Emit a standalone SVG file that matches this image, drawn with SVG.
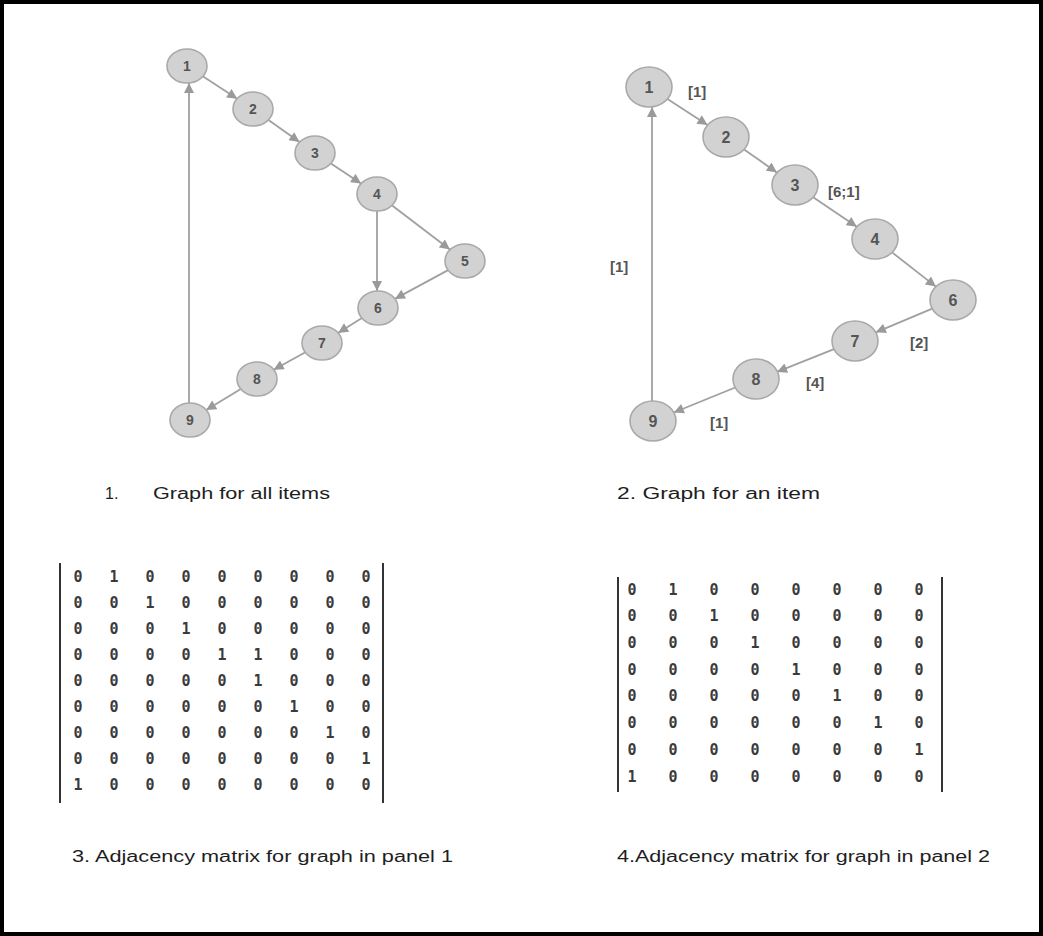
<svg xmlns="http://www.w3.org/2000/svg" width="1043" height="936" viewBox="0 0 1043 936">
<defs>
<marker id="ah" viewBox="0 0 10 10" refX="10" refY="5" markerWidth="11" markerHeight="10" markerUnits="userSpaceOnUse" orient="auto">
<path d="M0,0 L10,5 L0,10 z" fill="#9a9a9a"/>
</marker>
<style>
.edge{stroke:#a0a0a0;stroke-width:1.8;fill:none;marker-end:url(#ah)}
.n1 ellipse{fill:#d2d2d2;stroke:#a9a9a9;stroke-width:1.6}
.n1 text{font-family:"Liberation Sans",Arial,sans-serif;font-weight:bold;font-size:14px;fill:#555;text-anchor:middle}
.n2 text{font-size:16px}
.lbl{font-family:"Liberation Sans",Arial,sans-serif;font-weight:bold;font-size:15px;fill:#555}
.cap{font-family:"Liberation Sans",Arial,sans-serif;font-size:16px;fill:#1e1e1e}
.mx{font-family:"DejaVu Sans Mono",monospace;font-weight:bold;font-size:15px;fill:#3a3a3a;text-anchor:middle}
.bar{stroke:#333;stroke-width:2}
</style>
</defs>
<rect x="2" y="2" width="1039" height="932" fill="#fff" stroke="#000" stroke-width="4"/>

<g id="connectors">
<line class="edge" x1="202.8" y1="76.3" x2="237.2" y2="98.7"/>
<line class="edge" x1="268.5" y1="120" x2="299.5" y2="142"/>
<line class="edge" x1="330.9" y1="163.5" x2="361.1" y2="183.5"/>
<line class="edge" x1="392.1" y1="205.5" x2="449.9" y2="249.5"/>
<line class="edge" x1="377" y1="211" x2="377" y2="291"/>
<line class="edge" x1="448.1" y1="270.1" x2="394.9" y2="298.9"/>
<line class="edge" x1="361.9" y1="318.1" x2="338.1" y2="332.9"/>
<line class="edge" x1="305.4" y1="352.2" x2="273.6" y2="369.8"/>
<line class="edge" x1="240.8" y1="388.9" x2="206.2" y2="410.1"/>
<line class="edge" x1="189" y1="403" x2="189" y2="83"/>

<line class="edge" x1="667.5" y1="99" x2="707.5" y2="125"/>
<line class="edge" x1="744.1" y1="149.6" x2="776.9" y2="172.4"/>
<line class="edge" x1="813.2" y1="197.3" x2="856.8" y2="226.7"/>
<line class="edge" x1="892.1" y1="252.4" x2="935.9" y2="286.6"/>
<line class="edge" x1="932.2" y1="308.7" x2="875.8" y2="332.3"/>
<line class="edge" x1="834" y1="349.1" x2="777" y2="371.9"/>
<line class="edge" x1="735.2" y1="387.5" x2="673.8" y2="412.5"/>
<line class="edge" x1="652" y1="401" x2="652" y2="107"/>
</g>

<g id="p1-n1" class="n1"><ellipse cx="187" cy="66" rx="20" ry="17"/><text x="187" y="71">1</text></g>
<g id="p1-n2" class="n1"><ellipse cx="253" cy="109" rx="20" ry="17"/><text x="253" y="114">2</text></g>
<g id="p1-n3" class="n1"><ellipse cx="315" cy="153" rx="20" ry="17"/><text x="315" y="158">3</text></g>
<g id="p1-n4" class="n1"><ellipse cx="377" cy="194" rx="20" ry="17"/><text x="377" y="199">4</text></g>
<g id="p1-n5" class="n1"><ellipse cx="465" cy="261" rx="20" ry="17"/><text x="465" y="266">5</text></g>
<g id="p1-n6" class="n1"><ellipse cx="378" cy="308" rx="20" ry="17"/><text x="378" y="313">6</text></g>
<g id="p1-n7" class="n1"><ellipse cx="322" cy="343" rx="20" ry="17"/><text x="322" y="348">7</text></g>
<g id="p1-n8" class="n1"><ellipse cx="257" cy="379" rx="20" ry="17"/><text x="257" y="384">8</text></g>
<g id="p1-n9" class="n1"><ellipse cx="190" cy="420" rx="20" ry="17"/><text x="190" y="425">9</text></g>

<g id="p2-n1" class="n1 n2"><ellipse cx="649" cy="87" rx="23" ry="20"/><text x="649" y="93">1</text></g>
<g id="p2-n2" class="n1 n2"><ellipse cx="726" cy="137" rx="23" ry="20"/><text x="726" y="143">2</text></g>
<g id="p2-n3" class="n1 n2"><ellipse cx="795" cy="185" rx="23" ry="20"/><text x="795" y="191">3</text></g>
<g id="p2-n4" class="n1 n2"><ellipse cx="875" cy="239" rx="23" ry="20"/><text x="875" y="245">4</text></g>
<g id="p2-n6" class="n1 n2"><ellipse cx="953" cy="300" rx="23" ry="20"/><text x="953" y="306">6</text></g>
<g id="p2-n7" class="n1 n2"><ellipse cx="855" cy="341" rx="23" ry="20"/><text x="855" y="347">7</text></g>
<g id="p2-n8" class="n1 n2"><ellipse cx="756" cy="379" rx="23" ry="20"/><text x="756" y="385">8</text></g>
<g id="p2-n9" class="n1 n2"><ellipse cx="653" cy="421" rx="23" ry="20"/><text x="653" y="427">9</text></g>

<g id="edge-labels">
<text class="lbl" x="688" y="97">[1]</text>
<text class="lbl" x="828" y="197">[6;1]</text>
<text class="lbl" x="610" y="272">[1]</text>
<text class="lbl" x="910" y="348">[2]</text>
<text class="lbl" x="806" y="388">[4]</text>
<text class="lbl" x="710" y="428">[1]</text>
</g>

<g id="captions">
<text class="cap" x="105" y="499">1.</text>
<text class="cap" x="153" y="499" textLength="177" lengthAdjust="spacingAndGlyphs">Graph for all items</text>
<text class="cap" x="617" y="499" textLength="203" lengthAdjust="spacingAndGlyphs">2.  Graph for an item</text>
<text class="cap" x="72" y="862" textLength="381" lengthAdjust="spacingAndGlyphs">3. Adjacency matrix for graph in panel 1</text>
<text class="cap" x="617" y="862" textLength="373" lengthAdjust="spacingAndGlyphs">4.Adjacency matrix for graph in panel 2</text>
</g>

<g id="matrix1">
<line class="bar" x1="60" y1="563" x2="60" y2="803"/>
<line class="bar" x1="383" y1="563" x2="383" y2="803"/>
<text class="mx" x="78 114 150 186 222 258 294 330 366" y="582">010000000</text>
<text class="mx" x="78 114 150 186 222 258 294 330 366" y="608">001000000</text>
<text class="mx" x="78 114 150 186 222 258 294 330 366" y="634">000100000</text>
<text class="mx" x="78 114 150 186 222 258 294 330 366" y="660">000011000</text>
<text class="mx" x="78 114 150 186 222 258 294 330 366" y="686">000001000</text>
<text class="mx" x="78 114 150 186 222 258 294 330 366" y="712">000000100</text>
<text class="mx" x="78 114 150 186 222 258 294 330 366" y="738">000000010</text>
<text class="mx" x="78 114 150 186 222 258 294 330 366" y="764">000000001</text>
<text class="mx" x="78 114 150 186 222 258 294 330 366" y="790">100000000</text>
</g>

<g id="matrix2">
<line class="bar" x1="618" y1="577" x2="618" y2="792"/>
<line class="bar" x1="942" y1="577" x2="942" y2="792"/>
<text class="mx" x="632 673 714 755 796 837 878 919" y="595">01000000</text>
<text class="mx" x="632 673 714 755 796 837 878 919" y="621">00100000</text>
<text class="mx" x="632 673 714 755 796 837 878 919" y="648">00010000</text>
<text class="mx" x="632 673 714 755 796 837 878 919" y="675">00001000</text>
<text class="mx" x="632 673 714 755 796 837 878 919" y="701">00000100</text>
<text class="mx" x="632 673 714 755 796 837 878 919" y="728">00000010</text>
<text class="mx" x="632 673 714 755 796 837 878 919" y="755">00000001</text>
<text class="mx" x="632 673 714 755 796 837 878 919" y="782">10000000</text>
</g>
</svg>
